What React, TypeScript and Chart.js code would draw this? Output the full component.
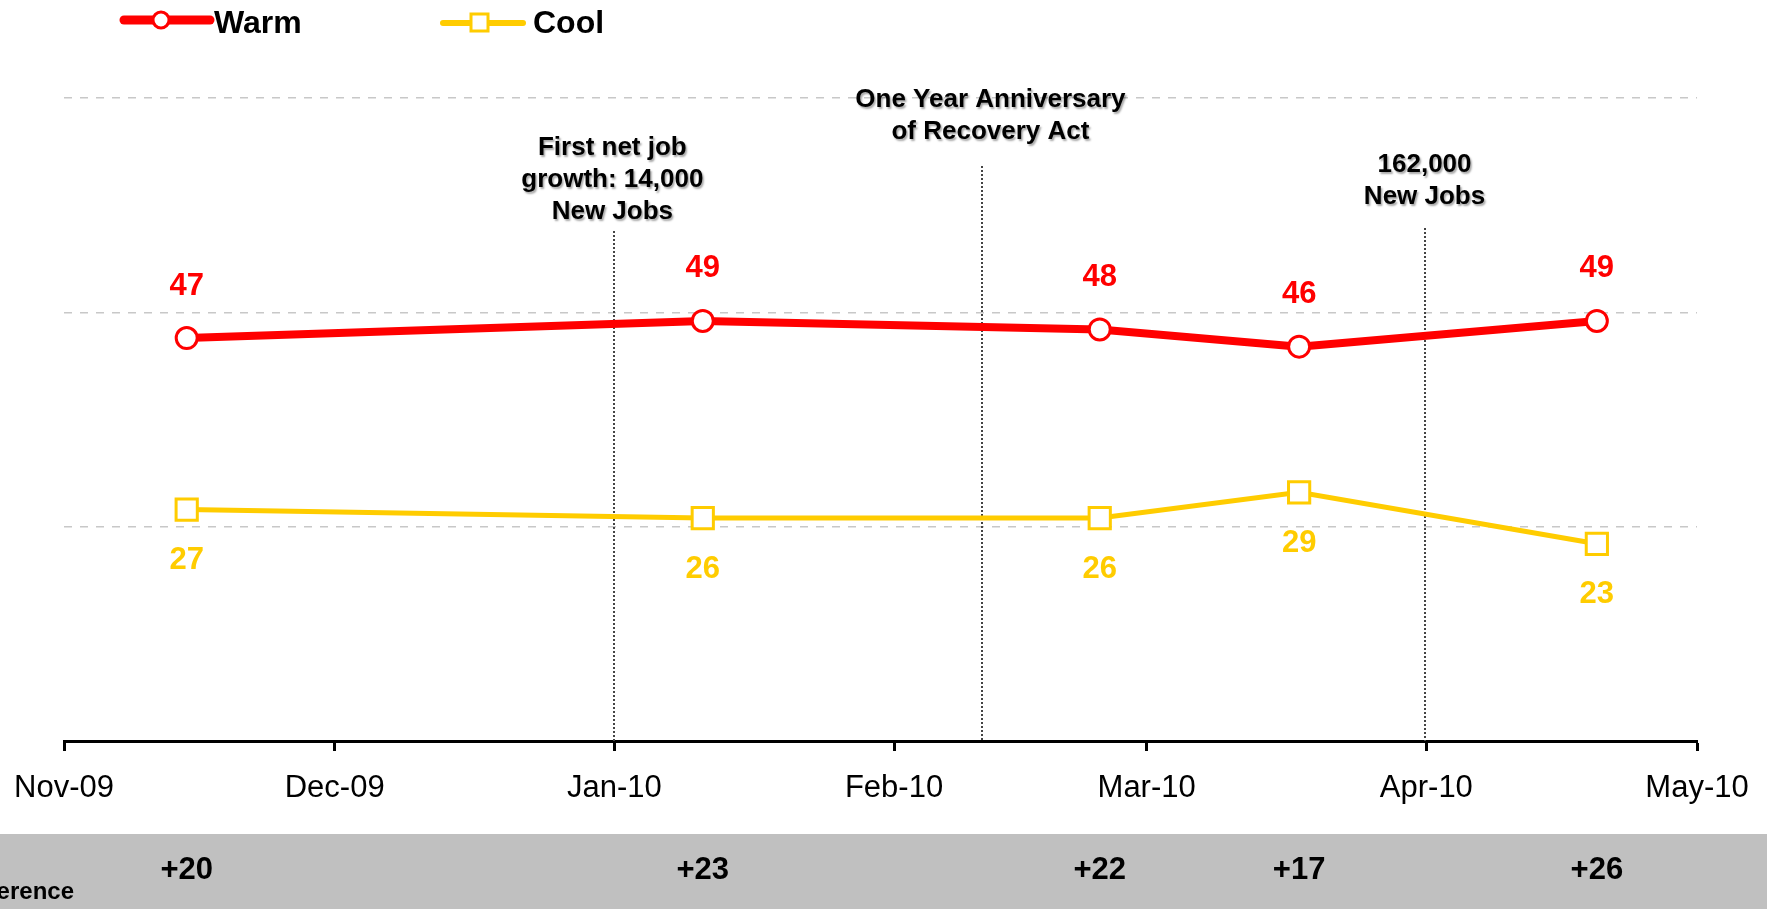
import React, { useEffect, useRef } from 'react';
import { Chart, registerables } from 'chart.js';

Chart.register(...registerables);

// ---------- data ----------
const seriesNames = ['Warm', 'Cool'];
// survey dates as days since 1 Nov 2009
const surveyDays = [13.6, 70.8, 114.8, 136.9, 169.9];
const warmValues = [47, 49, 48, 46, 49];
const coolValues = [27, 26, 26, 29, 23];
const monthTickDays = [0, 30, 61, 92, 120, 151, 181];
const monthTickLabels = ['Nov-09', 'Dec-09', 'Jan-10', 'Feb-10', 'Mar-10', 'Apr-10', 'May-10'];
const eventDays = [61, 101.8, 150.8];
const eventLabels = [
  ['First net job', 'growth: 14,000', 'New Jobs'],
  ['One Year Anniversary', 'of Recovery Act'],
  ['162,000', 'New Jobs'],
];
const differenceTitle = 'Difference';

// ---------- styles ----------
const FONT = '"Liberation Sans", Arial, Helvetica, sans-serif';
const RED = '#FF0000';
const GOLD = '#FFCC00';
const eventTextY = [148, 100, 165];
const eventTextDx = [-2, 8, 0];
const eventLineTop = [231, 166, 228];

const overlayPlugin = {
  id: 'overlay',
  beforeDraw(chart: any) {
    const ctx = chart.ctx;
    ctx.save();
    ctx.fillStyle = '#C0C0C0';
    ctx.fillRect(0, 834, chart.width, chart.height - 834);
    ctx.restore();
  },
  beforeDatasetsDraw(chart: any) {
    const { ctx, chartArea } = chart;
    const x = chart.scales.x;
    ctx.save();
    // dotted event lines
    ctx.strokeStyle = '#444';
    ctx.lineWidth = 2;
    ctx.setLineDash([2, 2]);
    eventDays.forEach((d, i) => {
      const px = Math.round(x.getPixelForValue(d));
      ctx.beginPath();
      ctx.moveTo(px, eventLineTop[i]);
      ctx.lineTo(px, chartArea.bottom);
      ctx.stroke();
    });
    ctx.setLineDash([]);
    // event texts
    ctx.font = `bold 26px ${FONT}`;
    ctx.textAlign = 'center';
    ctx.textBaseline = 'middle';
    ctx.fillStyle = '#000';
    ctx.shadowColor = 'rgba(0,0,0,0.35)';
    ctx.shadowOffsetX = 1.5;
    ctx.shadowOffsetY = 1.5;
    ctx.shadowBlur = 2;
    eventDays.forEach((d, i) => {
      const px = x.getPixelForValue(d) + eventTextDx[i];
      eventLabels[i].forEach((line, j) => {
        ctx.fillText(line, px, eventTextY[i] + j * 32);
      });
    });
    ctx.restore();
  },
  afterDatasetsDraw(chart: any) {
    const { ctx } = chart;
    const x = chart.scales.x;
    const y = chart.scales.y;
    ctx.save();
    ctx.textAlign = 'center';
    ctx.textBaseline = 'middle';
    // value labels
    ctx.font = `bold 31px ${FONT}`;
    surveyDays.forEach((d, i) => {
      const px = x.getPixelForValue(d);
      ctx.fillStyle = RED;
      ctx.fillText(String(warmValues[i]), px, y.getPixelForValue(warmValues[i]) - 52);
      ctx.fillStyle = GOLD;
      ctx.fillText(String(coolValues[i]), px, y.getPixelForValue(coolValues[i]) + 51);
    });
    // difference row
    ctx.fillStyle = '#000';
    ctx.font = `bold 31px ${FONT}`;
    surveyDays.forEach((d, i) => {
      const diff = warmValues[i] - coolValues[i];
      ctx.fillText((diff >= 0 ? '+' : '') + diff, x.getPixelForValue(d), 870);
    });
    ctx.font = `bold 24px ${FONT}`;
    ctx.textAlign = 'right';
    ctx.fillText(differenceTitle, 74, 892);

    // legend
    ctx.lineCap = 'round';
    ctx.strokeStyle = RED;
    ctx.lineWidth = 9;
    ctx.beginPath();
    ctx.moveTo(124, 20);
    ctx.lineTo(210, 20);
    ctx.stroke();
    ctx.beginPath();
    ctx.arc(161, 20, 8, 0, Math.PI * 2);
    ctx.fillStyle = '#fff';
    ctx.fill();
    ctx.lineWidth = 3;
    ctx.stroke();

    ctx.strokeStyle = GOLD;
    ctx.lineWidth = 6;
    ctx.beginPath();
    ctx.moveTo(443, 23);
    ctx.lineTo(523, 23);
    ctx.stroke();
    ctx.lineCap = 'butt';
    ctx.lineWidth = 3;
    ctx.fillStyle = '#fff';
    ctx.fillRect(471, 14, 17, 17);
    ctx.strokeRect(471, 14, 17, 17);

    ctx.fillStyle = '#000';
    ctx.font = `bold 32px ${FONT}`;
    ctx.textAlign = 'left';
    ctx.fillText(seriesNames[0], 214, 24);
    ctx.fillText(seriesNames[1], 533, 24);
    ctx.restore();
  },
};

export default function App() {
  const canvasRef = useRef<HTMLCanvasElement | null>(null);

  useEffect(() => {
    if (!canvasRef.current) return;
    const chart = new Chart(canvasRef.current, {
      type: 'line',
      data: {
        datasets: [
          {
            label: seriesNames[0],
            data: surveyDays.map((d, i) => ({ x: d, y: warmValues[i] })),
            borderColor: RED,
            borderWidth: 8,
            pointStyle: 'circle',
            pointRadius: 10.5,
            pointBorderWidth: 3,
            pointBackgroundColor: '#fff',
            pointBorderColor: RED,
            tension: 0,
          },
          {
            label: seriesNames[1],
            data: surveyDays.map((d, i) => ({ x: d, y: coolValues[i] })),
            borderColor: GOLD,
            borderWidth: 5,
            pointStyle: 'rect',
            pointRadius: 15,
            pointBorderWidth: 3,
            pointBackgroundColor: '#fff',
            pointBorderColor: GOLD,
            tension: 0,
          },
        ],
      },
      options: {
        animation: false,
        responsive: true,
        maintainAspectRatio: false,
        events: [],
        layout: { padding: { left: 64, right: 70, top: 98, bottom: 0 } },
        plugins: {
          legend: { display: false },
          tooltip: { enabled: false },
        },
        scales: {
          x: {
            type: 'linear',
            min: monthTickDays[0],
            max: monthTickDays[monthTickDays.length - 1],
            afterBuildTicks: (scale: any) => {
              scale.ticks = monthTickDays.map((v) => ({ value: v }));
            },
            afterFit: (scale: any) => {
              scale.height = 168;
              scale.paddingLeft = 0;
              scale.paddingRight = 0;
            },
            ticks: {
              autoSkip: false,
              maxRotation: 0,
              padding: 19,
              color: '#000',
              font: { family: FONT, size: 31 },
              callback: (value: any) => {
                const i = monthTickDays.indexOf(Number(value));
                return i >= 0 ? monthTickLabels[i] : '';
              },
            },
            grid: {
              drawOnChartArea: false,
              drawTicks: true,
              tickLength: 10,
              tickWidth: 3,
              tickColor: '#000',
            },
            border: { display: true, color: '#000', width: 3 },
          },
          y: {
            min: 0,
            max: 75,
            afterFit: (scale: any) => {
              scale.width = 0;
            },
            ticks: { display: false, stepSize: 25 },
            grid: {
              drawTicks: false,
              lineWidth: 1.5,
              color: (c: any) => (c.tick && c.tick.value === 0 ? 'rgba(0,0,0,0)' : '#c8c8c8'),
            },
            border: { display: false, dash: [8, 8] },
          },
        },
      },
      plugins: [overlayPlugin],
    });
    return () => chart.destroy();
  }, []);

  return (
    <div style={{ position: 'absolute', left: 0, top: 0, width: 1767, height: 909 }}>
      <canvas ref={canvasRef} />
    </div>
  );
}
